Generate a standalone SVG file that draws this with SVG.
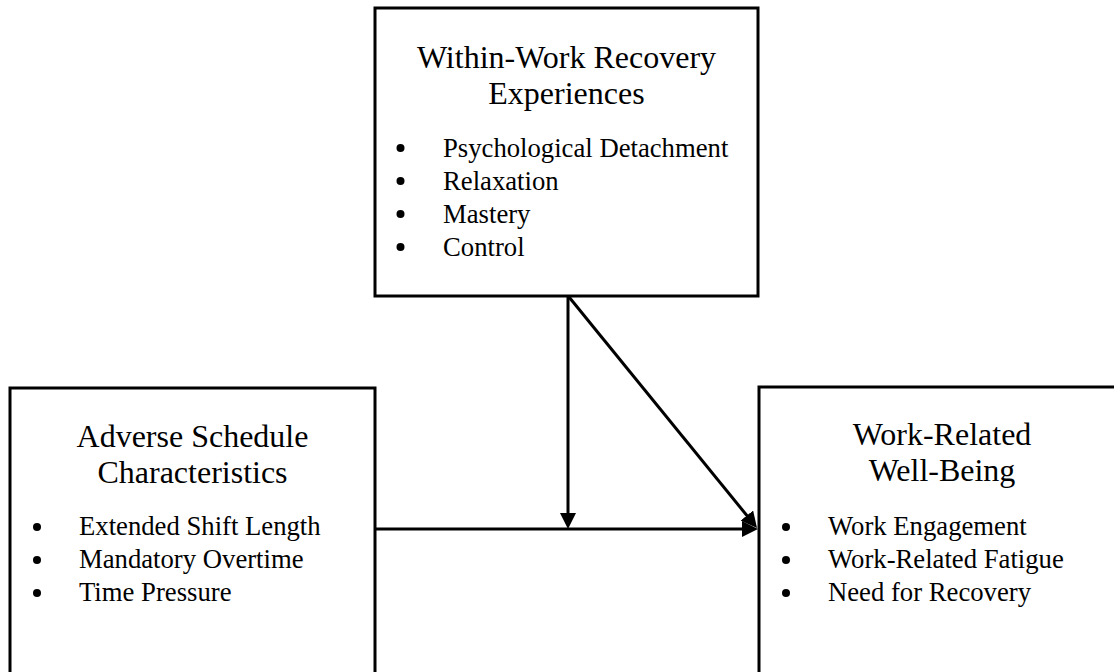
<svg xmlns="http://www.w3.org/2000/svg" width="1114" height="672" viewBox="0 0 1114 672">
<defs>
<style>
.box{fill:#fff;stroke:#000;stroke-width:3}
.t{font-family:"Liberation Serif","Times New Roman",serif;font-size:32px;fill:#000;text-anchor:middle}
.b{font-family:"Liberation Serif","Times New Roman",serif;font-size:26.7px;fill:#000}
.dot{fill:#000}
.ln{stroke:#000;stroke-width:3;fill:none}
</style>
<marker id="ah" viewBox="0 0 16 16" markerUnits="userSpaceOnUse" markerWidth="16" markerHeight="16" refX="6" refY="8" orient="auto">
<path d="M0,0 L16,8 L0,16 z" fill="#000"/>
</marker>
</defs>
<rect width="1114" height="672" fill="#fff"/>
<g id="within-work">
<rect class="box" x="375" y="8" width="383" height="288"/>
<text class="t" x="566.5" y="68">Within-Work Recovery</text>
<text class="t" x="566.5" y="104">Experiences</text>
<circle class="dot" cx="400.5" cy="148" r="4"/>
<circle class="dot" cx="400.5" cy="181" r="4"/>
<circle class="dot" cx="400.5" cy="214" r="4"/>
<circle class="dot" cx="400.5" cy="247" r="4"/>
<text class="b" x="443" y="157">Psychological Detachment</text>
<text class="b" x="443" y="190">Relaxation</text>
<text class="b" x="443" y="223">Mastery</text>
<text class="b" x="443" y="256">Control</text>
</g>
<g id="adverse">
<rect class="box" x="10" y="388" width="365" height="300"/>
<text class="t" x="192.5" y="447">Adverse Schedule</text>
<text class="t" x="192.5" y="483">Characteristics</text>
<circle class="dot" cx="37" cy="527" r="4"/>
<circle class="dot" cx="37" cy="560" r="4"/>
<circle class="dot" cx="37" cy="593" r="4"/>
<text class="b" x="79" y="535">Extended Shift Length</text>
<text class="b" x="79" y="568">Mandatory Overtime</text>
<text class="b" x="79" y="601">Time Pressure</text>
</g>
<g id="wellbeing">
<rect class="box" x="759" y="387" width="366" height="300"/>
<text class="t" x="942" y="445">Work-Related</text>
<text class="t" x="942" y="481">Well-Being</text>
<circle class="dot" cx="786" cy="527" r="4"/>
<circle class="dot" cx="786" cy="560" r="4"/>
<circle class="dot" cx="786" cy="593" r="4"/>
<text class="b" x="828" y="535">Work Engagement</text>
<text class="b" x="828" y="568">Work-Related Fatigue</text>
<text class="b" x="828" y="601">Need for Recovery</text>
</g>
<g id="connectors">
<line class="ln" x1="375" y1="529" x2="748" y2="529" marker-end="url(#ah)"/>
<line class="ln" x1="568" y1="297" x2="568" y2="519" marker-end="url(#ah)"/>
<line class="ln" x1="569" y1="297" x2="750.7" y2="520.2" marker-end="url(#ah)"/>
</g>
</svg>
